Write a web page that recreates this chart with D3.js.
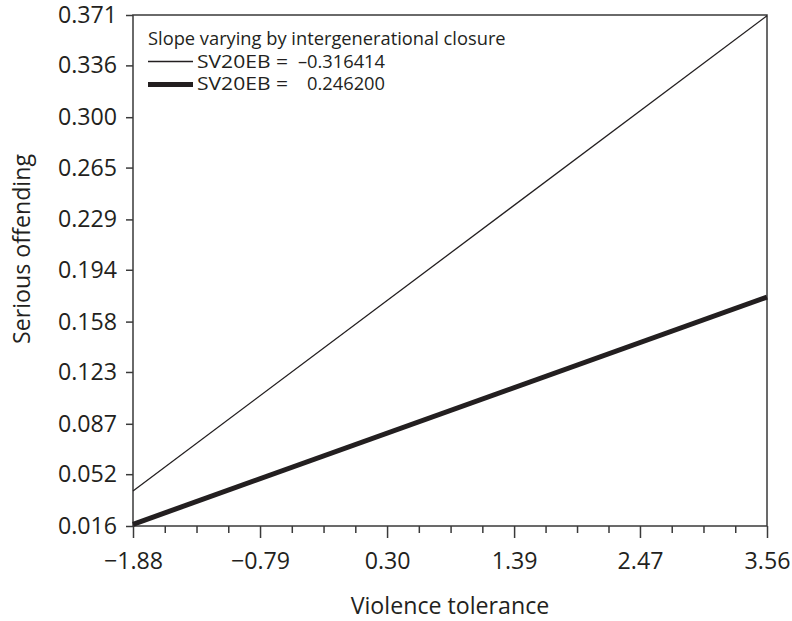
<!DOCTYPE html>
<html>
<head>
<meta charset="utf-8">
<script src="https://cdn.jsdelivr.net/npm/d3@7"></script>
<style>
body { margin: 0; background: #fff; }
svg text { font-family: "Open Sans", "Noto Sans", sans-serif; fill: #231f20; }
</style>
</head>
<body>
<script>
// data
var xTicks = [-1.88, -0.79, 0.30, 1.39, 2.47, 3.56];
var yTicks = [0.016, 0.052, 0.087, 0.123, 0.158, 0.194, 0.229, 0.265, 0.300, 0.336, 0.371];
var lineX = [-1.88, 3.56];
var thinY = [0.0403, 0.3705];   // SV20EB = -0.316414
var thickY = [0.0172, 0.1750];  // SV20EB = 0.246200
var seriesNames = ["SV20EB =", "SV20EB ="];
var seriesValues = ["\u20130.316414", "0.246200"];

var width = 792, height = 621;
var mLeft = 133, mRight = 767, mTop = 15, mBottom = 526;
var ink = "#231f20";

var svg = d3.select("body").append("svg")
    .attr("width", width)
    .attr("height", height);

var x = d3.scaleLinear().domain([xTicks[0], xTicks[xTicks.length - 1]]).range([mLeft, mRight]);
var y = d3.scaleLinear().domain([yTicks[0], yTicks[yTicks.length - 1]]).range([mBottom, mTop]);

// minor ticks: 3 between each pair of labels
var minor = [];
for (var i = 0; i < xTicks.length - 1; i++) {
  for (var k = 1; k < 4; k++) minor.push(xTicks[i] + (xTicks[i + 1] - xTicks[i]) * k / 4);
}

// frame
svg.append("rect")
    .attr("x", mLeft).attr("y", mTop)
    .attr("width", mRight - mLeft).attr("height", mBottom - mTop)
    .attr("fill", "none").attr("stroke", "#3a3a3a").attr("stroke-width", 1.5);

var yAxis = svg.append("g")
    .attr("transform", "translate(" + mLeft + ",0)")
    .call(d3.axisLeft(y).tickValues(yTicks).tickSize(7).tickPadding(9)
      .tickFormat(function (d) { return d.toFixed(3); }));

var xMinor = svg.append("g")
    .attr("transform", "translate(0," + mBottom + ")")
    .call(d3.axisBottom(x).tickValues(minor).tickSize(7).tickFormat(""));

var xAxis = svg.append("g")
    .attr("transform", "translate(0," + mBottom + ")")
    .call(d3.axisBottom(x).tickValues(xTicks).tickSize(12).tickPadding(15)
      .tickFormat(function (d) { return d3.format(".2f")(d).replace("-", "\u2013"); }));

[yAxis, xMinor, xAxis].forEach(function (g) {
  g.select(".domain").remove();
  g.selectAll("line").attr("stroke", "#3a3a3a").attr("stroke-width", 1.5);
  g.selectAll("text").attr("font-size", 23.2).attr("fill", ink)
    .style("font-family", "'Open Sans', 'Noto Sans', sans-serif");
});

// lines
var line = d3.line().x(function (d) { return x(d[0]); }).y(function (d) { return y(d[1]); });
svg.append("path")
    .datum(lineX.map(function (v, i) { return [v, thinY[i]]; }))
    .attr("d", line).attr("fill", "none").attr("stroke", ink).attr("stroke-width", 1.3);
svg.append("path")
    .datum(lineX.map(function (v, i) { return [v, thickY[i]]; }))
    .attr("d", line).attr("fill", "none").attr("stroke", ink).attr("stroke-width", 5);

// axis titles
svg.append("text")
    .attr("x", 450).attr("y", 614)
    .attr("text-anchor", "middle").attr("font-size", 23.2)
    .text("Violence tolerance");
svg.append("text")
    .attr("transform", "translate(30,249) rotate(-90)")
    .attr("text-anchor", "middle").attr("font-size", 23.2)
    .text("Serious offending");

// legend
svg.append("text")
    .attr("x", 148).attr("y", 45).attr("font-size", 18.3)
    .text("Slope varying by intergenerational closure");
var widths = [1.3, 5];
seriesNames.forEach(function (name, i) {
  var base = 67.5 + i * 22;
  svg.append("line")
      .attr("x1", 148).attr("x2", 193)
      .attr("y1", base - 6 + i).attr("y2", base - 6 + i)
      .attr("stroke", ink).attr("stroke-width", widths[i]);
  svg.append("text")
      .attr("x", 197).attr("y", base).attr("font-size", 18.3)
      .attr("textLength", 91).attr("lengthAdjust", "spacingAndGlyphs")
      .text(name);
  svg.append("text")
      .attr("x", 385).attr("y", base).attr("font-size", 18.3)
      .attr("text-anchor", "end")
      .text(seriesValues[i]);
});
</script>
</body>
</html>
